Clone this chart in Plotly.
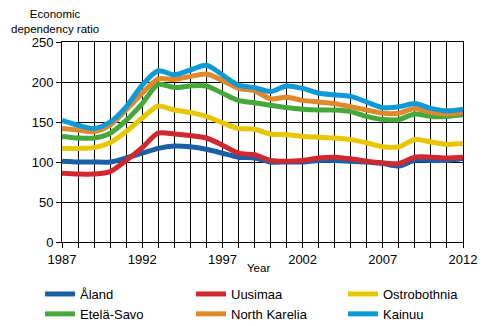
import plotly.graph_objects as go

years = list(range(1987, 2013))

aland = [101, 100, 100, 100, 105, 111, 117, 120, 119, 116, 111, 106, 105, 100, 100, 100, 102, 102, 101, 100, 98, 95, 102, 102, 102, 104]
uusimaa = [86, 85, 85, 88, 102, 118, 136, 135, 133, 130, 121, 111, 109, 102, 101, 102, 105, 106, 104, 101, 99, 98, 106, 106, 105, 106]
ostrobothnia = [117, 117, 118, 124, 138, 155, 170, 165, 162, 157, 149, 142, 141, 135, 134, 132, 131, 130, 128, 124, 119, 119, 128, 125, 122, 123]
etela_savo = [132, 130, 130, 136, 152, 173, 197, 193, 195, 195, 186, 177, 174, 171, 168, 166, 165, 165, 163, 157, 153, 153, 160, 157, 157, 159]
north_karelia = [142, 140, 138, 146, 165, 186, 204, 203, 207, 210, 202, 192, 189, 179, 181, 177, 175, 173, 169, 165, 161, 161, 167, 162, 160, 162]
kainuu = [152, 146, 142, 150, 169, 196, 214, 209, 215, 221, 209, 196, 193, 188, 195, 192, 186, 184, 182, 175, 168, 169, 173, 167, 164, 166]

names = ["Åland", "Uusimaa", "Ostrobothnia", "Etelä-Savo", "North Karelia", "Kainuu"]
series = [aland, uusimaa, ostrobothnia, etela_savo, north_karelia, kainuu]
colors = ["#1b5fa7", "#d1272f", "#e8c700", "#45a83b", "#e0892b", "#0e9ad7"]
legend_ids = ["legend", "legend2", "legend3", "legend", "legend2", "legend3"]

font = "Liberation Sans, Arial, sans-serif"

fig = go.Figure()
for n, s, c, lg in zip(names, series, colors, legend_ids):
    fig.add_trace(go.Scatter(x=years, y=s, name=n, mode="lines", legend=lg,
                             line=dict(color=c, width=5, shape="spline", smoothing=0.8)))

W, L, R, T, B, H = 496, 62, 33, 42, 84, 326
pw = W - L - R
ph = H - T - B


def px_x(x):
    return (x - L) / pw


def px_y(y):
    return (H - B - y) / ph


def leg(x):
    return dict(orientation="v", x=px_x(x), y=px_y(279), xanchor="left", yanchor="top",
                font=dict(size=13, family=font), bgcolor="rgba(0,0,0,0)",
                tracegroupgap=0, itemwidth=30, traceorder="normal")


fig.update_layout(
    width=W, height=H,
    margin=dict(l=L, r=R, t=T, b=B, autoexpand=False),
    paper_bgcolor="white", plot_bgcolor="white",
    font=dict(family=font, size=13, color="black"),
    showlegend=True,
    legend=leg(40), legend2=leg(191), legend3=leg(343),
    xaxis=dict(range=[1987, 2012], tick0=1987, dtick=5, showgrid=True, gridcolor="black", gridwidth=1,
               showline=True, linecolor="black", linewidth=1, ticks="outside", ticklen=5, tickcolor="black",
               minor=dict(dtick=1, tick0=1987, showgrid=True, gridcolor="black", gridwidth=1,
                          ticks="outside", ticklen=5, tickcolor="black"),
               tickfont=dict(size=13), zeroline=False, mirror=True),
    yaxis=dict(range=[0, 250], dtick=50, showgrid=True, gridcolor="black", gridwidth=1,
               showline=True, linecolor="black", linewidth=1, ticks="outside", ticklen=5, tickcolor="black",
               tickfont=dict(size=13), zeroline=False, mirror=True),
    annotations=[
        dict(text="Economic<br>dependency ratio", x=px_x(55), y=px_y(21), xref="paper", yref="paper",
             xanchor="center", yanchor="middle",
             showarrow=False, font=dict(size=11.5, family=font), align="center"),
        dict(text="Year", x=px_x(258), y=px_y(268), xref="paper", yref="paper",
             xanchor="center", yanchor="middle", showarrow=False,
             font=dict(size=11.5, family=font)),
    ],
)

fig.write_html("out.html")
